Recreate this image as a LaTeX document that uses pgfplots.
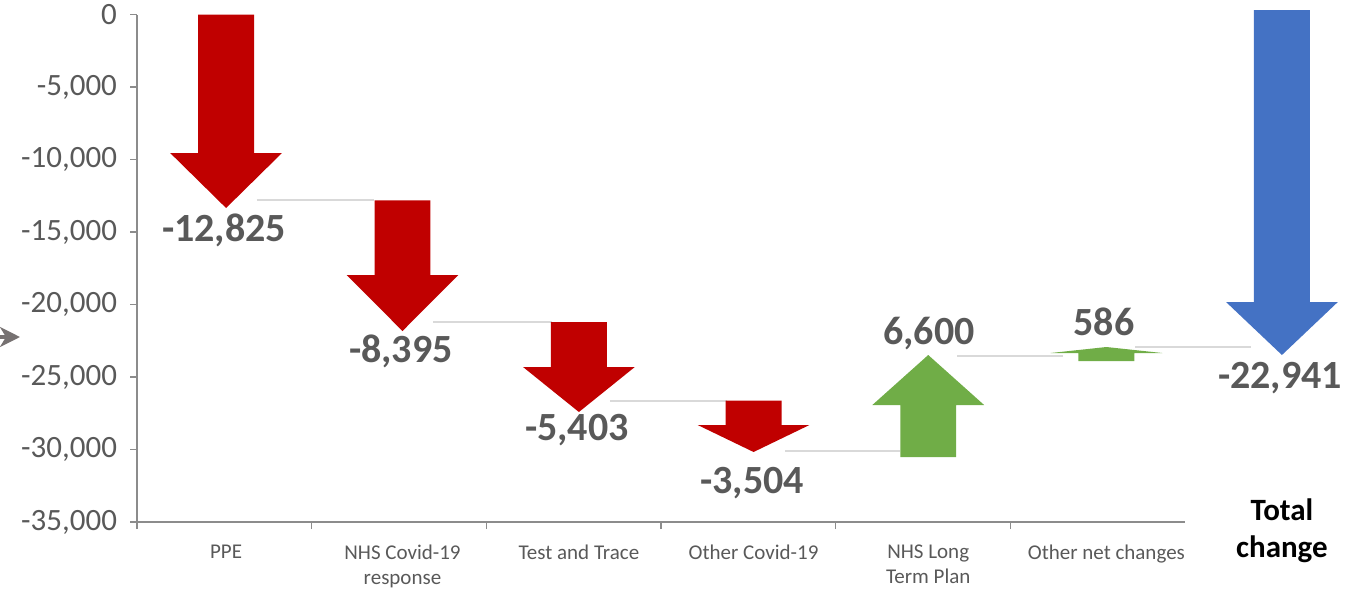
\documentclass[border=0pt]{standalone}
\usepackage{pgfplots}
\pgfplotsset{compat=1.18}
\usepackage{fontspec}
\setmainfont{Carlito}
\usetikzlibrary{arrows.meta}
\definecolor{arrRed}{HTML}{C00000}
\definecolor{arrGreen}{HTML}{70AD47}
\definecolor{arrBlue}{HTML}{4472C4}
\definecolor{labgray}{HTML}{595959}
\definecolor{axisgray}{HTML}{8C8C8C}
\definecolor{conngray}{HTML}{D9D9D9}
\definecolor{leftarrow}{HTML}{767171}
\begin{document}
\begin{tikzpicture}
\useasboundingbox (-68.5pt,-34.5pt) rectangle (611pt,261pt);
\begin{axis}[
  scale only axis, width=524pt, height=253.75pt,
  xmin=0, xmax=6, ymin=-35000, ymax=0,
  clip=false,
  axis x line*=bottom, axis y line*=left,
  axis line style={draw=axisgray, line width=0.7pt},
  tick style={draw=axisgray, line width=0.7pt},
  tick align=outside,
  major tick length=3.5pt,
  ytick={-35000,-30000,-25000,-20000,-15000,-10000,-5000,0},
  yticklabels={{-35,000},{-30,000},{-25,000},{-20,000},{-15,000},{-10,000},{-5,000},0},
  yticklabel style={font=\fontsize{15.5}{18}\selectfont, text=labgray, xshift=-3pt, inner ysep=1pt},
  xtick={0,1,2,3,4,5},
  xticklabels={},
  extra x ticks={0.51,1.52,2.53,3.53,4.53,5.55},
  extra x tick labels={PPE, NHS Covid-19\\response, Test and Trace, Other Covid-19, NHS Long\\Term Plan, Other net changes},
  extra x tick style={major tick length=0pt, xticklabel style={font=\fontsize{10.5}{12.5}\selectfont, text=labgray, align=center, yshift=-8pt}},
]
% connector lines at the running totals
\addplot[conngray, line width=1pt] coordinates {(0.687,-12825) (1.357,-12825)};
\addplot[conngray, line width=1pt] coordinates {(1.695,-21220) (2.376,-21220)};
\addplot[conngray, line width=1pt] coordinates {(2.708,-26623) (3.378,-26623)};
\addplot[conngray, line width=1pt] coordinates {(3.710,-30127) (4.368,-30127)};
\addplot[conngray, line width=1pt] coordinates {(4.695,-23527) (5.300,-23527)};
\addplot[conngray, line width=1pt] coordinates {(5.714,-22941) (6.378,-22941)};
% PPE  -12,825
\addplot[fill=arrRed, draw=none] coordinates {(0.35,0) (0.67,0) (0.67,-9552) (0.83,-9552) (0.51,-13345) (0.19,-9552) (0.35,-9552)} -- cycle;
% NHS Covid-19 response  -8,395
\addplot[fill=arrRed, draw=none] coordinates {(1.36,-12825) (1.68,-12825) (1.68,-17966) (1.84,-17966) (1.52,-21828) (1.20,-17966) (1.36,-17966)} -- cycle;
% Test and Trace  -5,403
\addplot[fill=arrRed, draw=none] coordinates {(2.37,-21220) (2.69,-21220) (2.69,-24310) (2.85,-24310) (2.53,-27414) (2.21,-24310) (2.37,-24310)} -- cycle;
% Other Covid-19  -3,504
\addplot[fill=arrRed, draw=none] coordinates {(3.37,-26623) (3.69,-26623) (3.69,-28310) (3.85,-28310) (3.53,-30172) (3.21,-28310) (3.37,-28310)} -- cycle;
% NHS Long Term Plan  +6,600
\addplot[fill=arrGreen, draw=none] coordinates {(4.37,-30517) (4.69,-30517) (4.69,-26931) (4.85,-26931) (4.53,-23483) (4.21,-26931) (4.37,-26931)} -- cycle;
% Other net changes  +586
\addplot[fill=arrGreen, draw=none] coordinates {(5.39,-23897) (5.71,-23897) (5.71,-23345) (5.87,-23345) (5.55,-22931) (5.23,-23345) (5.39,-23345)} -- cycle;
% Total change  -22,941
\addplot[fill=arrBlue, draw=none] coordinates {(6.395,310) (6.715,310) (6.715,-19828) (6.875,-19828) (6.555,-23483) (6.235,-19828) (6.395,-19828)} -- cycle;
% value labels
\tikzset{vlab/.style={anchor=base, font=\fontsize{20}{24}\selectfont\bfseries, text=labgray}}
\node[vlab] at (axis cs:0.498,-15621) {-12,825};
\node[vlab] at (axis cs:1.511,-23966) {-8,395};
\node[vlab] at (axis cs:2.519,-29345) {-5,403};
\node[vlab] at (axis cs:3.521,-33000) {-3,504};
\node[vlab] at (axis cs:4.534,-22724) {6,600};
\node[vlab] at (axis cs:5.536,-22103) {586};
\node[vlab] at (axis cs:6.544,-25759) {-22,941};
\node[anchor=base, font=\fontsize{15.5}{18.5}\selectfont\bfseries] at (axis cs:6.555,-34862) {Total};
\node[anchor=base, font=\fontsize{15.5}{18.5}\selectfont\bfseries] at (axis cs:6.555,-37414) {change};
\end{axis}
\draw[draw=leftarrow, line width=2.2pt, -{Stealth[length=10pt,width=10pt,inset=3pt]}] (-75pt,92.5pt) -- (-58.5pt,92.5pt);
\end{tikzpicture}
\end{document}
